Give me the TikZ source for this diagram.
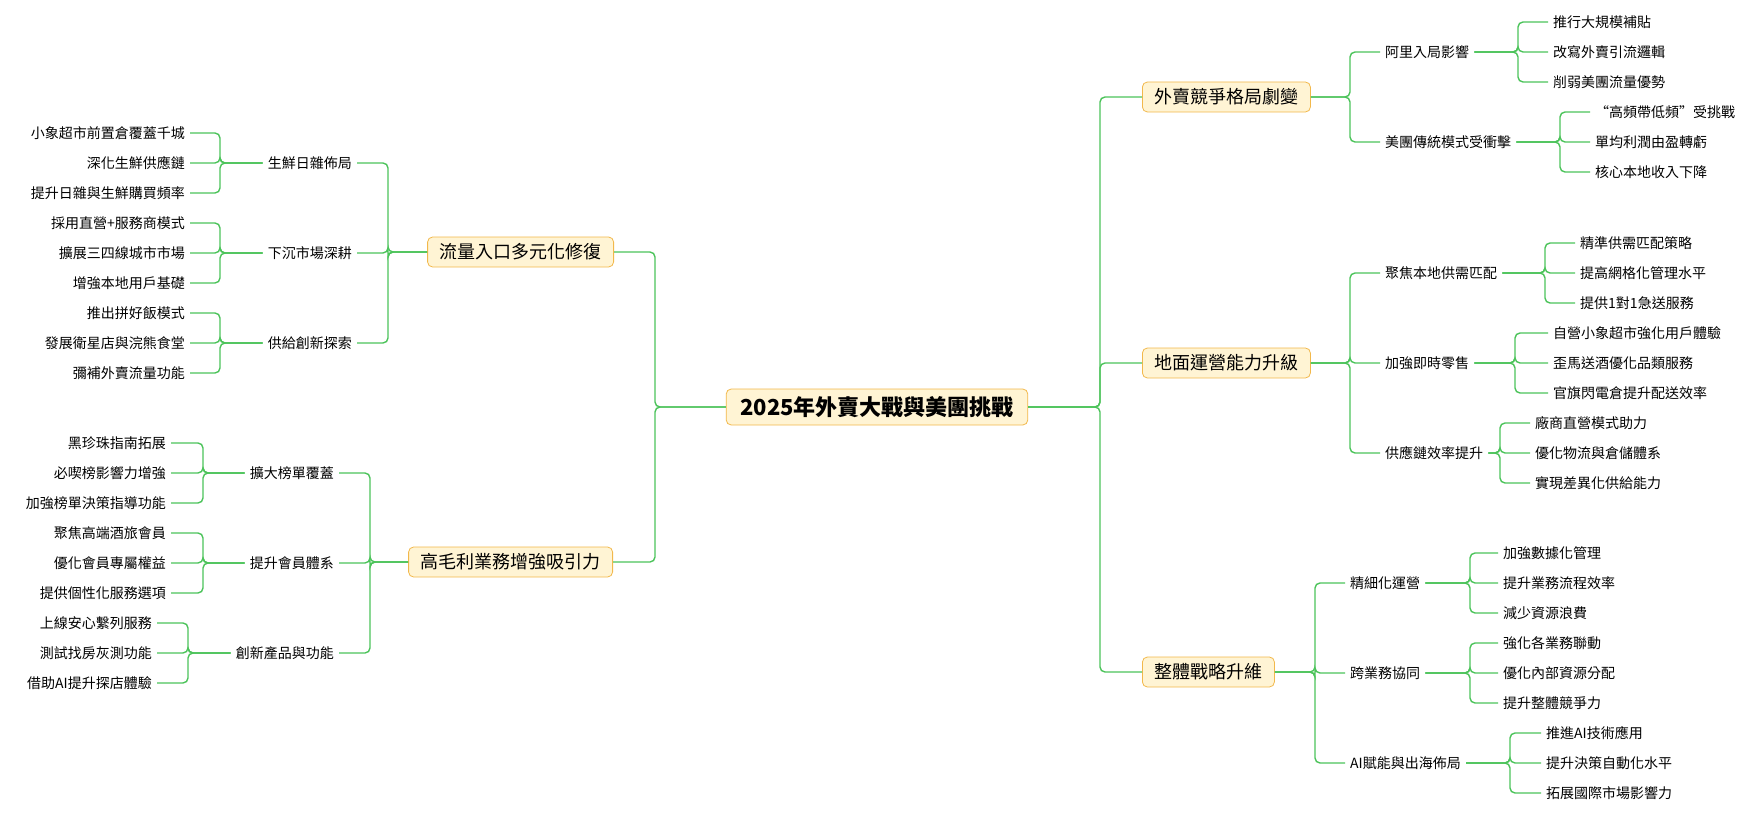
\documentclass[tikz,border=0pt]{standalone}
\usepackage{fontspec}
\setmainfont{Noto Sans CJK TC}
\definecolor{lk}{HTML}{4CC35A}
\definecolor{bf}{HTML}{FFF4D4}
\definecolor{bd}{HTML}{F2B84B}
\begin{document}
\begin{tikzpicture}[x=1pt,y=-1pt,
 link/.style={draw=lk,line width=1.4pt,rounded corners=5pt},
 box/.style={draw=bd,fill=bf,rounded corners=5pt,line width=0.8pt,inner xsep=12pt,minimum height=30pt,font=\fontsize{18}{20}\selectfont},
 root/.style={box,font=\fontsize{22}{24}\selectfont\bfseries,minimum height=36pt,inner xsep=14pt},
 t/.style={inner sep=5pt,font=\fontsize{14}{16}\selectfont}]
\useasboundingbox (0,0) rectangle (1746,816);
\newcommand\linkR[3]{\coordinate (k#1) at (#2,0);
 \foreach \l in {#3}{\draw[link] (#1.east) -- (#1.east -| k#1) |- (\l.west);}}
\newcommand\linkL[3]{\coordinate (k#1) at (#2,0);
 \foreach \l in {#3}{\draw[link] (#1.west) -- (#1.west -| k#1) |- (\l.east);}}

\node[root] (root) at (877,407) {2025年外賣大戰與美團挑戰};
% right L1
\node[box,anchor=west] (r1) at (1142,97) {外賣競爭格局劇變};
\node[box,anchor=west] (r2) at (1142,363) {地面運營能力升級};
\node[box,anchor=west] (r3) at (1142,672) {整體戰略升維};
% left L1
\node[box,anchor=east] (l1) at (614,252) {流量入口多元化修復};
\node[box,anchor=east] (l2) at (613,562) {高毛利業務增強吸引力};
\linkR{root}{1100}{r1,r2,r3}
\linkL{root}{655}{l1,l2}

% r1
\node[t,anchor=west] (r1a) at (1380,52) {阿里入局影響};
\node[t,anchor=west] (r1b) at (1380,142) {美團傳統模式受衝擊};
\linkR{r1}{1350}{r1a,r1b}
\node[t,anchor=west] (r1a1) at (1548,22) {推行大規模補貼};
\node[t,anchor=west] (r1a2) at (1548,52) {改寫外賣引流邏輯};
\node[t,anchor=west] (r1a3) at (1548,82) {削弱美團流量優勢};
\linkR{r1a}{1518}{r1a1,r1a2,r1a3}
\node[t,anchor=west] (r1b1) at (1590,112) {“高頻帶低頻”受挑戰};
\node[t,anchor=west] (r1b2) at (1590,142) {單均利潤由盈轉虧};
\node[t,anchor=west] (r1b3) at (1590,172) {核心本地收入下降};
\linkR{r1b}{1560}{r1b1,r1b2,r1b3}

% r2
\node[t,anchor=west] (r2a) at (1380,273) {聚焦本地供需匹配};
\node[t,anchor=west] (r2b) at (1380,363) {加強即時零售};
\node[t,anchor=west] (r2c) at (1380,453) {供應鏈效率提升};
\linkR{r2}{1350}{r2a,r2b,r2c}
\node[t,anchor=west] (r2a1) at (1575,243) {精準供需匹配策略};
\node[t,anchor=west] (r2a2) at (1575,273) {提高網格化管理水平};
\node[t,anchor=west] (r2a3) at (1575,303) {提供1對1急送服務};
\linkR{r2a}{1545}{r2a1,r2a2,r2a3}
\node[t,anchor=west] (r2b1) at (1548,333) {自營小象超市強化用戶體驗};
\node[t,anchor=west] (r2b2) at (1548,363) {歪馬送酒優化品類服務};
\node[t,anchor=west] (r2b3) at (1548,393) {官旗閃電倉提升配送效率};
\linkR{r2b}{1515}{r2b1,r2b2,r2b3}
\node[t,anchor=west] (r2c1) at (1530,423) {廠商直營模式助力};
\node[t,anchor=west] (r2c2) at (1530,453) {優化物流與倉儲體系};
\node[t,anchor=west] (r2c3) at (1530,483) {實現差異化供給能力};
\linkR{r2c}{1500}{r2c1,r2c2,r2c3}

% r3
\node[t,anchor=west] (r3a) at (1345,583) {精細化運營};
\node[t,anchor=west] (r3b) at (1345,673) {跨業務協同};
\node[t,anchor=west] (r3c) at (1345,763) {AI賦能與出海佈局};
\linkR{r3}{1315}{r3a,r3b,r3c}
\node[t,anchor=west] (r3a1) at (1498,553) {加強數據化管理};
\node[t,anchor=west] (r3a2) at (1498,583) {提升業務流程效率};
\node[t,anchor=west] (r3a3) at (1498,613) {減少資源浪費};
\linkR{r3a}{1470}{r3a1,r3a2,r3a3}
\node[t,anchor=west] (r3b1) at (1498,643) {強化各業務聯動};
\node[t,anchor=west] (r3b2) at (1498,673) {優化內部資源分配};
\node[t,anchor=west] (r3b3) at (1498,703) {提升整體競爭力};
\linkR{r3b}{1470}{r3b1,r3b2,r3b3}
\node[t,anchor=west] (r3c1) at (1541,733) {推進AI技術應用};
\node[t,anchor=west] (r3c2) at (1541,763) {提升決策自動化水平};
\node[t,anchor=west] (r3c3) at (1541,793) {拓展國際市場影響力};
\linkR{r3c}{1510}{r3c1,r3c2,r3c3}

% l1
\node[t,anchor=east] (l1a) at (357,163) {生鮮日雜佈局};
\node[t,anchor=east] (l1b) at (357,253) {下沉市場深耕};
\node[t,anchor=east] (l1c) at (357,343) {供給創新探索};
\linkL{l1}{388}{l1a,l1b,l1c}
\node[t,anchor=east] (l1a1) at (190,133) {小象超市前置倉覆蓋千城};
\node[t,anchor=east] (l1a2) at (190,163) {深化生鮮供應鏈};
\node[t,anchor=east] (l1a3) at (190,193) {提升日雜與生鮮購買頻率};
\linkL{l1a}{220}{l1a1,l1a2,l1a3}
\node[t,anchor=east] (l1b1) at (190,223) {採用直營+服務商模式};
\node[t,anchor=east] (l1b2) at (190,253) {擴展三四線城市市場};
\node[t,anchor=east] (l1b3) at (190,283) {增強本地用戶基礎};
\linkL{l1b}{220}{l1b1,l1b2,l1b3}
\node[t,anchor=east] (l1c1) at (190,313) {推出拼好飯模式};
\node[t,anchor=east] (l1c2) at (190,343) {發展衛星店與浣熊食堂};
\node[t,anchor=east] (l1c3) at (190,373) {彌補外賣流量功能};
\linkL{l1c}{220}{l1c1,l1c2,l1c3}

% l2
\node[t,anchor=east] (l2a) at (339,473) {擴大榜單覆蓋};
\node[t,anchor=east] (l2b) at (339,563) {提升會員體系};
\node[t,anchor=east] (l2c) at (339,653) {創新產品與功能};
\linkL{l2}{370}{l2a,l2b,l2c}
\node[t,anchor=east] (l2a1) at (171,443) {黑珍珠指南拓展};
\node[t,anchor=east] (l2a2) at (171,473) {必喫榜影響力增強};
\node[t,anchor=east] (l2a3) at (171,503) {加強榜單決策指導功能};
\linkL{l2a}{203}{l2a1,l2a2,l2a3}
\node[t,anchor=east] (l2b1) at (171,533) {聚焦高端酒旅會員};
\node[t,anchor=east] (l2b2) at (171,563) {優化會員專屬權益};
\node[t,anchor=east] (l2b3) at (171,593) {提供個性化服務選項};
\linkL{l2b}{203}{l2b1,l2b2,l2b3}
\node[t,anchor=east] (l2c1) at (157,623) {上線安心繫列服務};
\node[t,anchor=east] (l2c2) at (157,653) {測試找房灰測功能};
\node[t,anchor=east] (l2c3) at (157,683) {借助AI提升探店體驗};
\linkL{l2c}{188}{l2c1,l2c2,l2c3}
\end{tikzpicture}
\end{document}
